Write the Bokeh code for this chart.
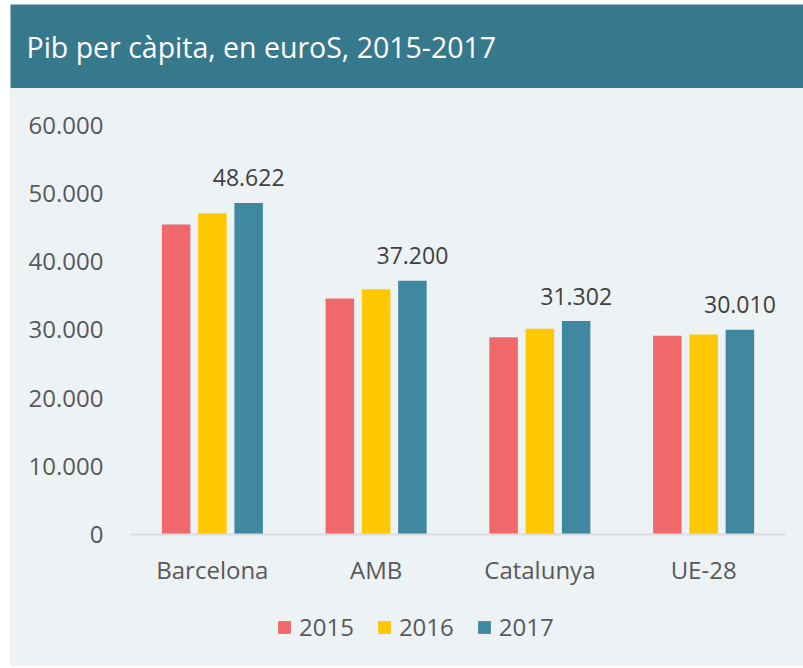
from bokeh.plotting import figure
from bokeh.models import ColumnDataSource, FactorRange, Range1d, Legend, LegendItem, FixedTicker
from bokeh.transform import dodge
from bokeh.core.properties import value
from bokeh.embed import file_html
from bokeh.resources import INLINE

# ---- data ----
title_text = "Pib per càpita, en euroS, 2015-2017"
categories = ["Barcelona", "AMB", "Catalunya", "UE-28"]
years = ["2015", "2016", "2017"]
v2015 = [45450, 34600, 28930, 29130]
v2016 = [47110, 35970, 30160, 29330]
v2017 = [48622, 37200, 31302, 30010]
labels2017 = ["48.622", "37.200", "31.302", "30.010"]
y_ticks = [0, 10000, 20000, 30000, 40000, 50000, 60000]
y_tick_labels = ["0", "10.000", "20.000", "30.000", "40.000", "50.000", "60.000"]

# ---- styles ----
colors = ["#F0686A", "#FFC800", "#3F88A0"]
BANNER = "#36798D"
BG = "#EDF2F5"
TXT = "#595959"
FONT = "Open Sans"
W = 793
BL, BR = 120, 18

# ---- banner ----
banner = figure(width=W, height=84, x_range=Range1d(0, 1), y_range=Range1d(0, 1),
                x_axis_type=None, y_axis_type=None, toolbar_location=None,
                output_backend="svg", min_border=0, margin=(4, 0, 0, 10))
banner.background_fill_color = BANNER
banner.border_fill_color = BANNER
banner.outline_line_color = None
banner.xgrid.visible = False
banner.ygrid.visible = False
banner.text(x=[0], y=[0.5], text=[title_text], x_offset=16, y_offset=0,
            text_baseline="middle", text_align="left", text_color="white",
            text_font=value(FONT), text_font_size="28.5px")

# ---- main chart ----
src = ColumnDataSource(dict(cat=categories, v2015=v2015, v2016=v2016, v2017=v2017, lab=labels2017))

p = figure(width=W, height=578, x_range=FactorRange(*categories), y_range=Range1d(-19355, 62170),
           toolbar_location=None, output_backend="svg", margin=(0, 0, 0, 10),
           styles={"background-color": BG},
           min_border_left=BL, min_border_right=BR, min_border_top=22, min_border_bottom=0)
p.background_fill_color = None
p.border_fill_color = None
p.outline_line_color = None
p.xgrid.visible = False
p.ygrid.visible = False

off = 0.2215
bw = 0.174
renderers = []
for col, dx, c in zip(["v2015", "v2016", "v2017"], [-off, 0, off], colors):
    r = p.vbar(x=dodge("cat", dx, range=p.x_range), top=col, width=bw, source=src,
               fill_color=c, line_color=None)
    renderers.append(r)

p.text(x=dodge("cat", off, range=p.x_range), y="v2017", text="lab", source=src,
       text_align="center", text_baseline="alphabetic", y_offset=-25,
       text_font=value(FONT), text_font_size="23px", text_color="#404040")

# axes
p.yaxis.ticker = FixedTicker(ticks=y_ticks)
p.yaxis.major_label_overrides = {t: l for t, l in zip(y_ticks, y_tick_labels)}
p.yaxis.axis_line_color = None
p.yaxis.major_tick_line_color = None
p.yaxis.minor_tick_line_color = None
p.yaxis.major_tick_out = 0
p.yaxis.major_label_standoff = 27
p.yaxis.major_label_text_font = FONT
p.yaxis.major_label_text_font_size = "24px"
p.yaxis.major_label_text_color = TXT

p.xaxis.fixed_location = 0
p.xaxis.axis_line_color = "#D9DDE0"
p.xaxis.axis_line_width = 2
p.xaxis.major_tick_line_color = None
p.xaxis.major_tick_out = 0
p.xaxis.major_label_standoff = 19
p.xaxis.major_label_text_font = FONT
p.xaxis.major_label_text_font_size = "24px"
p.xaxis.major_label_text_color = TXT

legend = Legend(items=[LegendItem(label=y, renderers=[r]) for y, r in zip(years, renderers)],
                orientation="horizontal", location=(146, 23),
                padding=0, margin=0, spacing=22, label_standoff=7,
                glyph_width=16, glyph_height=16,
                background_fill_alpha=0, border_line_alpha=0,
                label_text_font=FONT, label_text_font_size="24px", label_text_color=TXT)
p.add_layout(legend, "center")

open("out.html", "w").write(file_html([banner, p], INLINE))
